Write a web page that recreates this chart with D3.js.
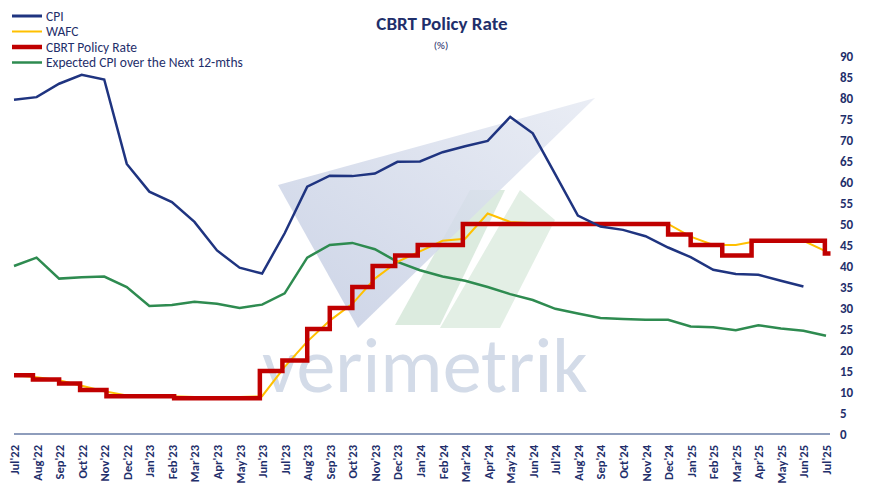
<!DOCTYPE html><html><head><script src="https://cdn.jsdelivr.net/npm/d3@7"></script>
<style>body{margin:0;background:#fff}text{font-family:Calibri,Carlito,"Liberation Sans",Arial,sans-serif}</style></head><body><svg id="c" width="870" height="492"></svg>
<script>
const months=["Jul'22","Aug'22","Sep'22","Oct'22","Nov'22","Dec'22","Jan'23","Feb'23","Mar'23","Apr'23","May'23","Jun'23","Jul'23","Aug'23","Sep'23","Oct'23","Nov'23","Dec'23","Jan'24","Feb'24","Mar'24","Apr'24","May'24","Jun'24","Jul'24","Aug'24","Sep'24","Oct'24","Nov'24","Dec'24","Jan'25","Feb'25","Mar'25","Apr'25","May'25","Jun'25","Jul'25"];
const cpi=[79.6,80.2,83.4,85.5,84.4,64.3,57.7,55.2,50.5,43.7,39.6,38.2,47.8,58.9,61.5,61.4,62,64.8,64.9,67.1,68.5,69.8,75.5,71.6,61.8,52,49.4,48.6,47.1,44.4,42.1,39.1,38.1,37.9,36.5,35.1];
const wafc=[14,13.5,12.8,11.5,10.2,9.2,9.2,9,8.8,8.7,8.8,9,16,22,27,31,37,41,43.5,46,46.5,52.5,50.5,50.2,50,50,50,50,50,50,47,45,45,46,46,46,43.5];
const expCpi=[40,42,37,37.3,37.5,35,30.5,30.7,31.5,31,30,30.8,33.5,42,45,45.5,44,41,39,37.5,36.5,35,33.3,31.9,29.8,28.7,27.6,27.4,27.2,27.2,25.6,25.4,24.7,25.9,25.1,24.6,23.4];
// policy rate steps: [month index where level starts, level]
const policy=[[0,14],[0.84,13],[2.0,12],[2.93,10.5],[4.1,9],[7.1,8.5],[10.9,15],[11.9,17.5],[13,25],[14,30],[15,35],[15.9,40],[16.9,42.5],[17.9,45],[19.9,50],[29,47.5],[30,45],[31.4,42.5],[32.7,46],[35.95,43],[36.2,43]];
const yTicks=d3.range(0,91,5);
const svg=d3.select("#c");
const x=d3.scaleLinear().domain([0,36]).range([14,826]);
const y=d3.scaleLinear().domain([0,90]).range([434,56]);
// watermark
const defs=svg.append("defs");
const g=defs.append("linearGradient").attr("id","tg").attr("x1","0").attr("y1","1").attr("x2","1").attr("y2","0");
g.append("stop").attr("offset","0").attr("stop-color","#c3cce2");
g.append("stop").attr("offset","1").attr("stop-color","#e6eaf3");
const wm=svg.append("g");
wm.append("polygon").attr("points","395,325 440,325 505,190 470,190").attr("fill","#dcebdf");
wm.append("polygon").attr("points","440,328 500,328 555,220 520,190").attr("fill","#e3efe5");
wm.append("polygon").attr("points","278,185 595,98 358,328").attr("fill","url(#tg)").attr("opacity",0.85);
wm.append("text").attr("x",262).attr("y",392).attr("font-size",78).attr("fill","#d3dbe8").attr("font-family","'Open Sans',sans-serif").text("verimetrik");
// axes
svg.append("line").attr("x1",14).attr("x2",830).attr("y1",434).attr("y2",434).attr("stroke","#1f3d7a").attr("stroke-width",1.2);
svg.selectAll(".yt").data(yTicks).enter().append("text").attr("x",840).attr("y",d=>y(d)+4.5).attr("font-size",13).attr("font-weight","bold").attr("fill","#1f2f6b").text(d=>d);
svg.selectAll(".xt").data(months).enter().append("text").attr("transform",(d,i)=>`translate(${x(i)+5},445) rotate(-90)`).attr("text-anchor","end").attr("font-size",12.5).attr("font-weight","bold").attr("fill","#1f2f6b").text(d=>d);
const line=d3.line().x((d,i)=>x(i)).y(d=>y(d));
svg.append("path").datum(expCpi).attr("d",line).attr("fill","none").attr("stroke","#2e8b50").attr("stroke-width",2.5);
svg.append("path").datum(wafc).attr("d",line).attr("fill","none").attr("stroke","#ffc000").attr("stroke-width",2);
svg.append("path").datum(policy).attr("d",d3.line().curve(d3.curveStepAfter).x(d=>x(d[0])).y(d=>y(d[1]))).attr("fill","none").attr("stroke","#c00000").attr("stroke-width",4.5);
svg.append("path").datum(cpi).attr("d",line).attr("fill","none").attr("stroke","#1f3480").attr("stroke-width",2.5);
// title
svg.append("text").attr("x",442).attr("y",30).attr("text-anchor","middle").attr("font-size",19).attr("font-weight","bold").attr("fill","#1f2f6b").text("CBRT Policy Rate");
svg.append("text").attr("x",441).attr("y",49).attr("text-anchor","middle").attr("font-size",11).attr("fill","#1f2f6b").text("(%)");
// legend
const leg=[["CPI","#1f3480",3],["WAFC","#ffc000",2],["CBRT Policy Rate","#c00000",4.5],["Expected CPI over the Next 12-mths","#2e8b50",2.5]];
leg.forEach((l,i)=>{const yy=16+i*15.5;svg.append("line").attr("x1",12).attr("x2",42).attr("y1",yy).attr("y2",yy).attr("stroke",l[1]).attr("stroke-width",l[2]);
svg.append("text").attr("x",46).attr("y",yy+4.5).attr("font-size",13.5).attr("fill","#1f2f6b").text(l[0]);});
</script></body></html>
